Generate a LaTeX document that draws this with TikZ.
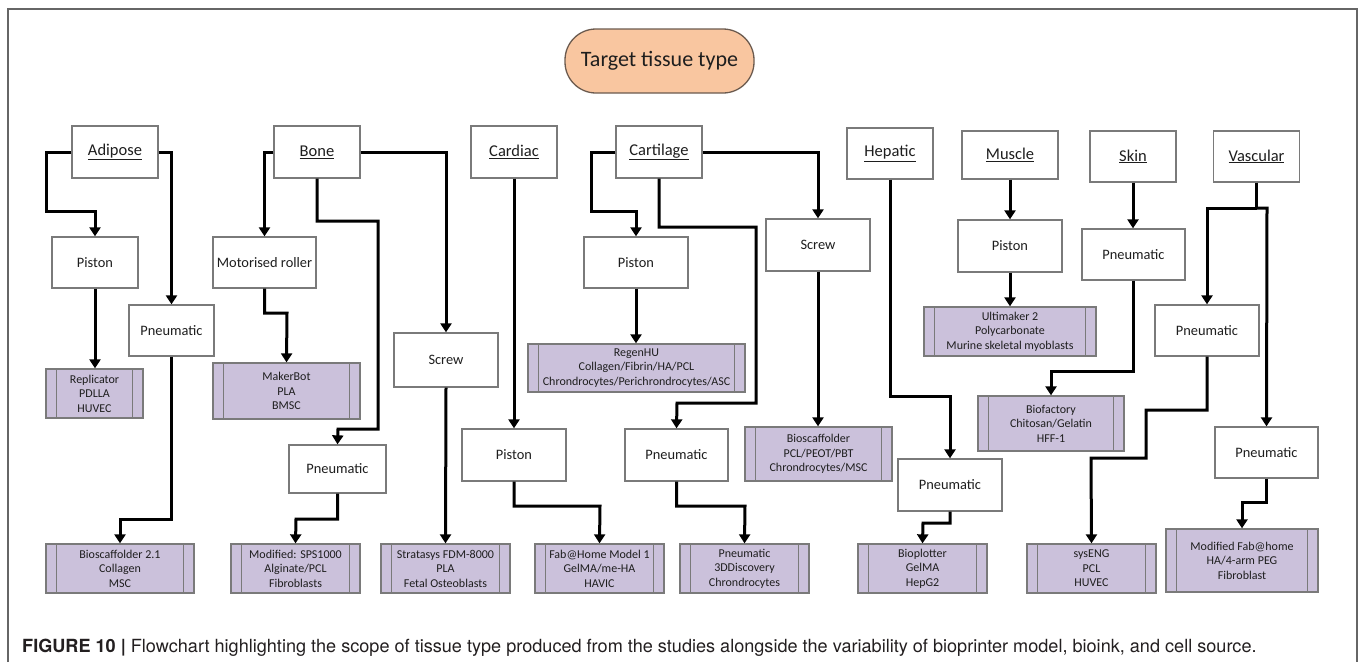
\documentclass[tikz,border=0pt]{standalone}
\usepackage{fontspec}
\setmainfont{Carlito}
\newfontfamily\capfont{TeX Gyre Heros}
\usetikzlibrary{arrows.meta,calc}
\definecolor{peach}{HTML}{F9C6A0}
\definecolor{peachborder}{HTML}{6B5A4E}
\definecolor{lav}{HTML}{CBC1DB}
\definecolor{boxgray}{HTML}{7A7A7A}
\definecolor{framegray}{HTML}{666666}
\definecolor{txt}{HTML}{1E1E1E}
\definecolor{capcol}{HTML}{231F20}
\begin{document}
\begin{tikzpicture}[x=1pt,y=-1pt,
  tissue/.style={draw=boxgray,line width=1.3pt,fill=white,minimum width=86pt,minimum height=52pt,inner sep=0pt,text=txt,font=\fontsize{16.5}{18}\selectfont},
  mech/.style={draw=boxgray,line width=1.3pt,fill=white,minimum width=104pt,minimum height=52pt,inner sep=0pt,text=txt,font=\fontsize{14.4}{16}\selectfont},
  res/.style={draw=boxgray,line width=1.3pt,fill=lav,inner sep=0pt,text=txt,align=center,font=\fontsize{12}{14.5}\selectfont,
    path picture={\draw[boxgray,line width=1.3pt]
      ([xshift=10.5pt]path picture bounding box.north west) -- ([xshift=10.5pt]path picture bounding box.south west)
      ([xshift=-10.5pt]path picture bounding box.north east) -- ([xshift=-10.5pt]path picture bounding box.south east);}},
  arr/.style={line width=3pt,-{Triangle[width=11pt,length=9pt]}},
  ln/.style={line width=3pt}
]
\useasboundingbox (0,0) rectangle (1358,662);
\draw[framegray,line width=1.5pt] (8,662) -- (8,9) -- (1357,9) -- (1357,662);

% title
\node[draw=peachborder,line width=1.3pt,fill=peach,rounded corners=31pt,minimum width=189pt,minimum height=64pt,inner sep=0pt,text=txt,font=\fontsize{22}{24}\selectfont] (title) at (659.5,61) {Target tissue type};

% tissue boxes
\node[tissue] (adipose) at (115,152) {\underline{Adipose}};
\node[tissue] (bone) at (317,152) {\underline{Bone}};
\node[tissue] (cardiac) at (514,152) {\underline{Cardiac}};
\node[tissue] (cartilage) at (659,152) {\underline{Cartilage}};
\node[tissue,minimum height=51pt] (hepatic) at (890,153.5) {\underline{Hepatic}};
\node[tissue,minimum width=96pt,minimum height=48pt] (muscle) at (1010,155) {\underline{Muscle}};
\node[tissue,minimum height=51pt] (skin) at (1133,156.5) {\underline{Skin}};
\node[tissue,minimum height=51pt] (vascular) at (1256.5,156.5) {\underline{Vascular}};

% mechanism boxes
\node[mech,minimum width=86pt,minimum height=51pt] (apist) at (95,262.5) {Piston};
\node[mech,minimum width=85pt,minimum height=51pt] (apneu) at (171.5,330.5) {Pneumatic};
\node[mech,minimum width=103pt,minimum height=51pt] (broller) at (264.5,262.5) {Motorised roller};
\node[mech,minimum width=97pt,minimum height=48pt] (bpneu) at (337.5,469) {Pneumatic};
\node[mech,minimum height=54pt] (bscrew) at (446,360) {Screw};
\node[mech] (cpist) at (514,455) {Piston};
\node[mech,minimum height=51pt] (tpist) at (636,262.5) {Piston};
\node[mech,minimum width=103pt] (tpneu) at (676.5,455) {Pneumatic};
\node[mech] (tscrew) at (818,245) {Screw};
\node[mech] (hpneu) at (950,485) {Pneumatic};
\node[mech] (mpist) at (1010,246) {Piston};
\node[mech,minimum width=103pt,minimum height=51pt] (spneu) at (1133.5,254.5) {Pneumatic};
\node[mech,minimum height=51pt] (vpneu1) at (1207,330.5) {Pneumatic};
\node[mech,minimum width=103pt,minimum height=51pt] (vpneu2) at (1266.5,452.5) {Pneumatic};

% result boxes
\node[res,minimum width=97pt,minimum height=49pt] (replicator) at (94.5,393.5) {Replicator\\PDLLA\\HUVEC};
\node[res,minimum width=148pt,minimum height=49pt] (biosc21) at (120,568.5) {Bioscaffolder 2.1\\Collagen\\MSC};
\node[res,minimum width=147pt,minimum height=56pt] (makerbot) at (286.5,391) {MakerBot\\PLA\\BMSC};
\node[res,minimum width=129pt,minimum height=49pt] (sps) at (295.5,568.5) {Modified: SPS1000\\Alginate/PCL\\Fibroblasts};
\node[res,minimum width=129pt,minimum height=49pt] (stratasys) at (445.5,568.5) {Stratasys FDM-8000\\PLA\\Fetal Osteoblasts};
\node[res,minimum width=129pt,minimum height=49pt] (fab1) at (599.5,568.5) {Fab@Home Model 1\\GelMA/me-HA\\HAVIC};
\node[res,minimum width=217pt,minimum height=48pt] (regenhu) at (636.5,368) {RegenHU\\Collagen/Fibrin/HA/PCL\\Chrondrocytes/Perichrondrocytes/ASC};
\node[res,minimum width=129pt,minimum height=49pt] (disc3d) at (744.5,568.5) {Pneumatic\\3DDiscovery\\Chrondrocytes};
\node[res,minimum width=147pt,minimum height=54pt] (biosc) at (818.5,454) {Bioscaffolder\\PCL/PEOT/PBT\\Chrondrocytes/MSC};
\node[res,minimum width=129pt,minimum height=49pt] (bioplotter) at (922.5,568.5) {Bioplotter\\GelMA\\HepG2};
\node[res,minimum width=172pt,minimum height=49pt] (ultimaker) at (1010,331.5) {Ultimaker 2\\Polycarbonate\\Murine skeletal myoblasts};
\node[res,minimum width=146pt,minimum height=55pt] (biofactory) at (1051,423.5) {Biofactory\\Chitosan/Gelatin\\HFF-1};
\node[res,minimum width=129pt,minimum height=49pt] (syseng) at (1091.5,568.5) {sysENG\\PCL\\HUVEC};
\node[res,minimum width=152pt,minimum height=63pt] (fabhome) at (1242,560.5) {Modified Fab@home\\HA/4-arm PEG\\Fibroblast};

% connectors: adipose
\draw[arr] (adipose.west) -| (46,211) -| (apist.north);
\draw[arr] (adipose.east) -| (apneu.north);
\draw[arr] (apist.south) -- (apist.south |- replicator.north);
\draw[arr] (apneu.south) |- (121,519) -- (121,519 -| biosc21.north) -- (biosc21.north);
% bone
\draw[arr] (bone.west) -| (broller.north);
\draw[arr] (bone.south) |- (378,221) |- (338,429) -- (bpneu.north);
\draw[arr] (bone.east) -| (bscrew.north);
\draw[arr] (broller.south) |- (287,313) -- (makerbot.north);
\draw[arr] (bpneu.south) |- (296,519) -- (sps.north);
\draw[arr] (bscrew.south) -- (stratasys.north);
% cardiac
\draw[arr] (cardiac.south) -- (cpist.north);
\draw[arr] (cpist.south) |- (600,506) -- (fab1.north);
% cartilage
\draw[arr] (cartilage.west) -| (591,211) -| (tpist.north);
\draw[arr] (cartilage.south) |- (756,227) |- (677,403) -- (tpneu.north);
\draw[arr] (cartilage.east) -| (tscrew.north);
\draw[arr] (tpist.south) -- (tpist.south |- regenhu.north);
\draw[arr] (tpneu.south) |- (745,506) -- (disc3d.north);
\draw[arr] (tscrew.south) -- (tscrew.south |- biosc.north);
% hepatic
\draw[arr] (hepatic.south) |- (950,396) -- (hpneu.north);
\draw[arr] (hpneu.south) |- (923,523) -- (bioplotter.north);
% muscle
\draw[arr] (muscle.south) -- (mpist.north);
\draw[arr] (mpist.south) -- (ultimaker.north);
% skin
\draw[arr] (skin.south) -- (skin.south |- spneu.north);
\draw[arr] (spneu.south) |- (1051,371) -- (biofactory.north);
% vascular
\draw[ln] (vascular.south) -- (vascular.south |- 0,208) coordinate (vj);
\draw[arr] (vj) -| (vpneu1.north);
\draw[arr] (vj) -| (1267,208) -- (vpneu2.north);
\draw[arr] (vpneu1.south) |- (1146,410) |- (1091,458) -- (syseng.north);
\draw[arr] (vpneu2.south) |- (1242,502) -- (fabhome.north);

% caption
\node[anchor=base west,inner sep=0pt,text=capcol,font=\capfont\fontsize{18.1}{20}\selectfont] (caption) at (22,652)
  {\textbf{FIGURE 10 |} Flowchart highlighting the scope of tissue type produced from the studies alongside the variability of bioprinter model, bioink, and cell source.};
\end{tikzpicture}
\end{document}
